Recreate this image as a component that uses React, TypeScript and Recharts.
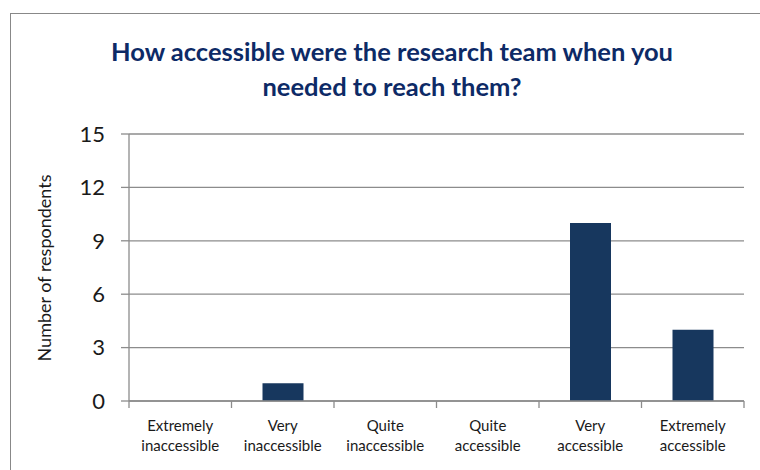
import React from 'react';
import { BarChart, Bar, XAxis, YAxis, CartesianGrid } from 'recharts';

const CATEGORIES = [
  'Extremely|inaccessible',
  'Very|inaccessible',
  'Quite|inaccessible',
  'Quite|accessible',
  'Very|accessible',
  'Extremely|accessible',
];
const RESPONDENTS = [0, 1, 0, 0, 10, 4];
const Y_TICKS = [0, 3, 6, 9, 12, 15];

// category centres sit at i + 0.5, boundaries at whole numbers
const data = CATEGORIES.map((c, i) => ({ name: c, value: RESPONDENTS[i], pos: i + 0.5 }));
const X_TICKS = [0, ...data.flatMap((d) => [d.pos, d.pos + 0.5])];

const FONT = 'Lato, "Open Sans", sans-serif';
const NAVY = '#17375E';
const GRID = '#8C8C8C';

const XTick = (props: any) => {
  const { x, y, payload } = props;
  const v = Number(payload.value);
  if (Number.isInteger(v)) {
    return <line x1={x} x2={x} y1={y} y2={y + 7} stroke={GRID} strokeWidth={1.3} />;
  }
  const [a, b] = CATEGORIES[Math.floor(v)].split('|');
  return (
    <text x={x} y={y} textAnchor="middle" fontFamily={FONT} fontSize={15} fill="#1a1a1a">
      <tspan x={x} dy={30}>{a}</tspan>
      <tspan x={x} dy={20}>{b}</tspan>
    </text>
  );
};

export default function App() {
  return (
    <div style={{ position: 'fixed', left: 0, top: 0, width: 760, height: 470, overflow: 'hidden', background: '#fff' }}>
      <div style={{ position: 'absolute', left: 10, top: 13, width: 800, height: 500, border: '1.5px solid #888', boxSizing: 'border-box' }} />
      <div style={{
        position: 'absolute', left: 0, top: 34, width: 784, textAlign: 'center',
        fontFamily: FONT, fontWeight: 700, fontSize: 25.5, lineHeight: '35px', color: '#0D2A66',
      }}>
        How accessible were the research team when you<br />needed to reach them?
      </div>
      <div style={{ position: 'absolute', left: 0, top: 0 }}>
        <BarChart width={760} height={470} data={data} margin={{ top: 134, right: 16, bottom: 0, left: 0 }} barCategoryGap={31}>
          <CartesianGrid horizontal vertical={false} stroke={GRID} strokeWidth={1.3} />
          <XAxis type="number" dataKey="pos" domain={[0, 6]} ticks={X_TICKS} interval={0} tick={<XTick />}
            tickLine={false} tickSize={0} tickMargin={0} axisLine={{ stroke: GRID, strokeWidth: 1.3 }} height={69} />
          <YAxis width={129} domain={[0, 15]} ticks={Y_TICKS} tickSize={8} tickMargin={16}
            tick={{ fontFamily: FONT, fontSize: 22, fill: '#1a1a1a' }}
            tickLine={{ stroke: GRID, strokeWidth: 1.3 }} axisLine={{ stroke: GRID, strokeWidth: 1.3 }}
            label={() => (
              <text x={46} y={268} transform="rotate(-90 46 268)" textAnchor="middle" dominantBaseline="middle"
                fontFamily={FONT} fontSize={18} fill="#1a1a1a">Number of respondents</text>
            )} />
          <Bar dataKey="value" fill={NAVY} isAnimationActive={false} />
        </BarChart>
      </div>
    </div>
  );
}
